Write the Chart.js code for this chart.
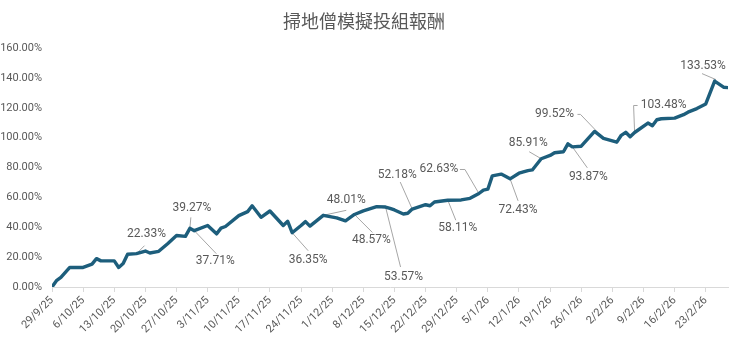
<!DOCTYPE html>
<html>
<head>
<meta charset="utf-8">
<script src="https://cdn.jsdelivr.net/npm/chart.js@4.4.1/dist/chart.umd.min.js"></script>
<style>
    html, body { margin: 0; padding: 0; background: #fff; }
    #wrap { width: 740px; height: 337px; }
</style>
</head>
<body>
<div id="wrap"><canvas id="chart1"></canvas></div>
<script>
// days counted from 29/9/25
const days = [0, 1, 2, 4, 7, 9, 10, 11, 14, 15, 16, 17, 19, 21, 22, 24, 26, 28, 30, 31,
    32, 35, 37, 38, 39, 42, 44, 45, 47, 49, 52, 53, 54, 56, 57, 58, 61, 64, 66, 68,
    70, 73, 75, 76, 77, 79, 80, 81, 84, 85, 86, 89, 92, 93, 94, 96, 97, 98, 99, 101,
    103, 105, 107, 108, 110, 112, 113, 115, 116, 117, 119, 122, 124, 127, 128, 129, 130, 131, 134, 135,
    136, 137, 140, 142, 143, 145, 147, 149, 151, 152];
const returns = [0, 4.2, 6.4, 13.1, 13.1, 15.3, 19.0, 17.5, 17.5, 13.1, 15.7, 21.9, 22.33, 24.1, 22.8, 23.9, 29.0, 34.5, 33.9, 39.27,
    37.71, 41.2, 35.6, 39.4, 40.5, 47.8, 50.5, 54.4, 46.7, 50.9, 41.2, 44.0, 36.35, 41.2, 43.8, 40.8, 48.01, 46.3, 44.3, 48.57,
    51.0, 53.8, 53.57, 52.7, 51.6, 48.9, 49.4, 52.18, 55.1, 54.4, 56.9, 58.11, 58.3, 58.9, 59.4, 62.63, 64.9, 65.5, 74.4, 75.6,
    72.43, 76.2, 77.9, 78.4, 85.91, 88.1, 89.9, 90.6, 95.9, 93.87, 94.3, 104.2, 99.52, 97.0, 101.6, 103.6, 100.6, 103.48, 109.8, 108.0,
    112.0, 112.7, 113.1, 115.4, 117.1, 119.5, 122.6, 137.9, 133.8, 133.53];
const labelledDays = [19, 31, 32, 54, 61, 68, 75, 81, 89, 96, 103, 110, 117, 124, 131, 152];
const startDate = new Date(2025, 8, 29);

// label offset and leader path (px) for each labelled day
const callouts = {
    19: { label: [10, -20], leader: [[0, 0], [8, -8]] },
    31: { label: [2, -20], leader: [[0, 0], [1, -11]] },
    32: { label: [21, 30], leader: [[0, 0], [22, 23]] },
    54: { label: [16, 27], leader: [[0, 0], [16, 18]] },
    61: { label: [23, -15], leader: [[0, 0], [23, -5]] },
    68: { label: [17, 26], leader: [[0, 0], [18, 18]] },
    75: { label: [18, 70], leader: [[0, 0], [15, 60]] },
    81: { label: [-15, -34], leader: [[0, 0], [-12, -27]] },
    89: { label: [10, 28], leader: [[0, 0], [8, 20]] },
    96: { label: [-40, -24], leader: [[0, 0], [-14, -24], [-19, -24]] },
    103: { label: [8, 31], leader: [[0, 0], [8, 22]] },
    110: { label: [-13, -16], leader: [[0, 0], [-12, -7]] },
    117: { label: [16, 30], leader: [[0, 0], [15, 21]] },
    124: { label: [-49, -24], leader: [[0, 0], [-23, -24], [-26, -24]] },
    131: { label: [29, -27], leader: [[0, 0], [-1, -27], [3, -27]] },
    152: { label: [-25, -22], leader: [[-12, -8], [-26, -14]] }
};

function dayLabel(n) {
    const d = new Date(startDate.getTime());
    d.setDate(d.getDate() + n);
    return d.getDate() + '/' + (d.getMonth() + 1) + '/' + String(d.getFullYear()).slice(2);
}

const calloutPlugin = {
    id: 'callouts',
    beforeDatasetsDraw(chart) {
        const ctx = chart.ctx;
        const xs = chart.scales.x, ys = chart.scales.y;
        ctx.save();
        ctx.strokeStyle = '#a6a6a6';
        ctx.lineWidth = 1;
        labelledDays.forEach(day => {
            const c = callouts[day];
            const px = xs.getPixelForValue(day);
            const py = ys.getPixelForValue(returns[days.indexOf(day)]);
            ctx.beginPath();
            c.leader.forEach((p, i) => {
                if (i === 0) ctx.moveTo(px + p[0], py + p[1]);
                else ctx.lineTo(px + p[0], py + p[1]);
            });
            ctx.stroke();
        });
        ctx.restore();
    },
    afterDatasetsDraw(chart) {
        const ctx = chart.ctx;
        const xs = chart.scales.x, ys = chart.scales.y;
        ctx.save();
        ctx.fillStyle = '#595959';
        ctx.font = '12px Roboto';
        ctx.textAlign = 'center';
        ctx.textBaseline = 'middle';
        labelledDays.forEach(day => {
            const c = callouts[day];
            const v = returns[days.indexOf(day)];
            const px = xs.getPixelForValue(day);
            const py = ys.getPixelForValue(v);
            ctx.fillText(v.toFixed(2) + '%', px + c.label[0], py + c.label[1]);
        });
        ctx.restore();
    }
};

const ctx1 = document.getElementById('chart1').getContext('2d');
const myChart1 = new Chart(ctx1, {
    type: 'line',
    data: {
        datasets: [{
            data: days.map((d, i) => ({ x: d, y: returns[i] })),
            borderColor: '#1d5e7c',
            borderWidth: 3.4,
            pointRadius: 0,
            tension: 0,
            borderJoinStyle: 'round',
            borderCapStyle: 'round'
        }]
    },
    options: {
        responsive: true,
        maintainAspectRatio: false,
        animation: false,
        layout: { padding: { left: 0, right: 12, top: 10, bottom: 0 } },
        plugins: {
            legend: { display: false },
            tooltip: { enabled: false },
            title: {
                display: true,
                text: '掃地僧模擬投組報酬',
                color: '#595959',
                font: { family: '"Noto Sans CJK TC"', size: 18, weight: 'normal' },
                padding: { top: 0, bottom: 16.5 }
            }
        },
        scales: {
            x: {
                type: 'linear',
                min: 0,
                max: 152,
                afterBuildTicks: axis => {
                    axis.ticks = axis.ticks.filter(t => t.value % 7 === 0);
                },
                afterFit: s => { s.height = 50; },
                grid: { drawOnChartArea: false, drawTicks: true, tickLength: 5, color: '#d9d9d9' },
                border: { display: true, color: '#d9d9d9' },
                ticks: {
                    stepSize: 7,
                    autoSkip: false,
                    maxRotation: 45,
                    minRotation: 45,
                    padding: 2,
                    color: '#595959',
                    font: { family: 'Roboto', size: 11 },
                    callback: v => dayLabel(v)
                }
            },
            y: {
                min: 0,
                max: 160,
                afterFit: s => { s.width = 52; },
                grid: { display: false, drawTicks: false },
                border: { display: false },
                ticks: {
                    stepSize: 20,
                    padding: 10,
                    color: '#595959',
                    font: { family: 'Roboto', size: 11 },
                    callback: v => v.toFixed(2) + '%'
                }
            }
        }
    },
    plugins: [calloutPlugin]
});
</script>
</body>
</html>
